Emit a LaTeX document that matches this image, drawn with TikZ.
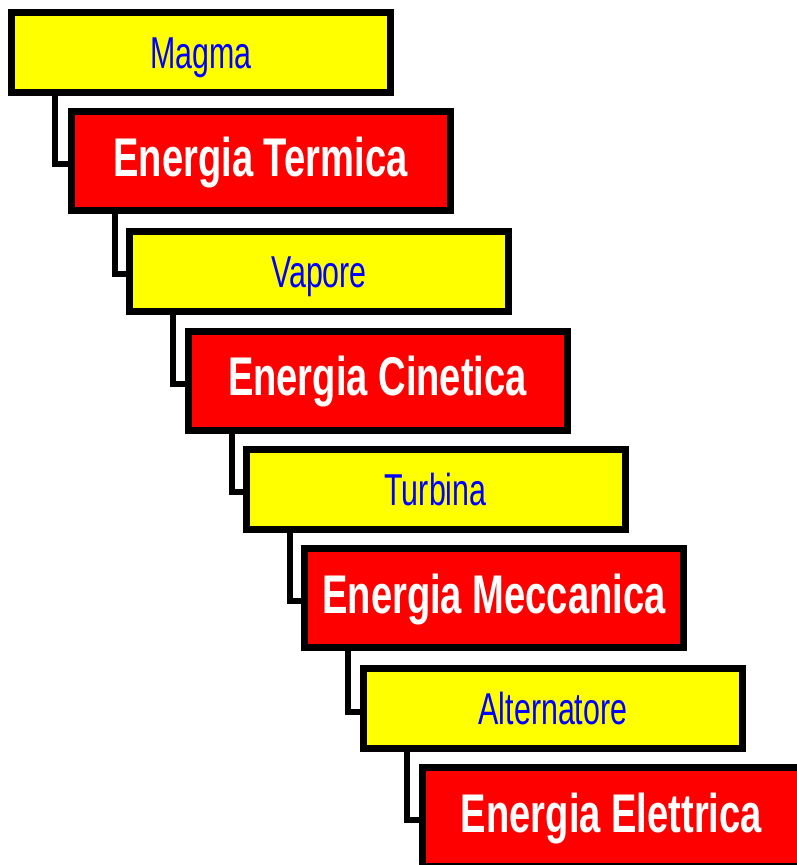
\documentclass[tikz,border=0pt]{standalone}
\usepackage{fontspec}
\setmainfont{Liberation Sans}
\usetikzlibrary{calc}
\definecolor{ybg}{RGB}{255,255,0}
\definecolor{rbg}{RGB}{255,0,0}
\definecolor{btxt}{RGB}{0,0,255}
\begin{document}
\begin{tikzpicture}[x=1pt,y=-1pt,
  box/.style={draw=black, line width=7pt, rectangle, inner sep=0pt, minimum width=379pt},
  ybox/.style={box, fill=ybg, minimum height=80pt, text=btxt, font=\fontsize{44.7}{44.7}\selectfont, text height=32pt, text depth=0pt},
  rbox/.style={box, fill=rbg, minimum height=99pt, text=white, font=\fontsize{54.5}{54.5}\selectfont\bfseries, text height=40pt, text depth=10pt},
  conn/.style={draw=black, line width=6pt, line join=miter}]
\useasboundingbox (0,0) rectangle (797,865);
\clip (0,0) rectangle (797,865);
\fill[white] (0,0) rectangle (797,865);
\node[ybox] (n1) at (201,52.5) {\scalebox{0.68}[1]{Magma}};
\node[rbox] (n2) at (260.5,161) {\scalebox{0.70}[1]{Energia Termica}};
\node[ybox] (n3) at (319,271) {\scalebox{0.68}[1]{Vapore}};
\node[rbox] (n4) at (377.5,380.5) {\scalebox{0.70}[1]{Energia Cinetica}};
\node[ybox] (n5) at (435.5,489) {\scalebox{0.68}[1]{Turbina}};
\node[rbox] (n6) at (494,598) {\scalebox{0.70}[1]{Energia Meccanica}};
\node[ybox] (n7) at (553,708.5) {\scalebox{0.68}[1]{Alternatore}};
\node[rbox] (n8) at (611.5,817) {\scalebox{0.70}[1]{Energia Elettrica}};
\foreach \a/\b in {n1/n2,n2/n3,n3/n4,n4/n5,n5/n6,n6/n7,n7/n8}
  \draw[conn] ($(\a.south west)+(47,0)$) |- ($(\b.west)+(0,3)$);
\end{tikzpicture}
\end{document}
